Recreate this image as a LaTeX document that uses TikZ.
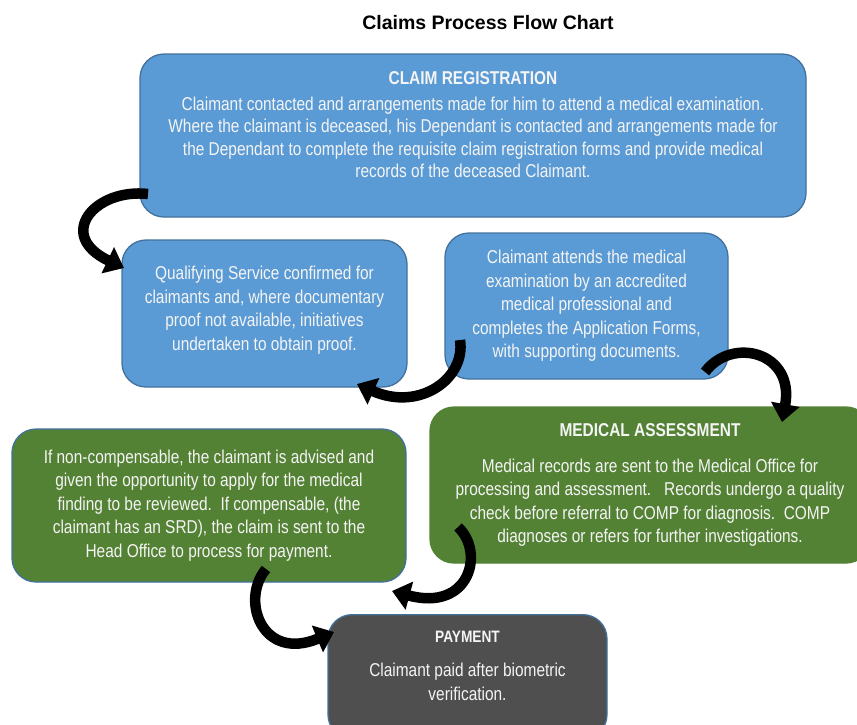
\documentclass[tikz,border=0pt]{standalone}
\usepackage{fontspec}
\setmainfont{Liberation Sans}[FakeStretch=0.83]
\newfontfamily\titlefont{Liberation Sans}
\usetikzlibrary{arrows.meta}
\definecolor{bluefill}{HTML}{5B9BD5}
\definecolor{blueline}{HTML}{41719C}
\definecolor{greenfill}{HTML}{548235}
\definecolor{grayfill}{HTML}{4F4F4F}
\definecolor{boxtext}{HTML}{F4F4F4}
\tikzset{
  box/.style={rounded corners=24pt, inner sep=0pt, align=center, text=boxtext,
    font=\fontsize{18.6}{23.5}\selectfont, line width=1.3pt},
  bluebox/.style={box, fill=bluefill, draw=blueline},
  greenbox/.style={box, fill=greenfill, draw=blueline},
  greenplain/.style={box, fill=greenfill, draw=greenfill},
  graybox/.style={box, fill=grayfill, draw=blueline},
  curvearrow/.style={line width=10.5pt, black, -{Triangle[length=18pt,width=28pt]}},
}
\begin{document}
\begin{tikzpicture}[x=1pt,y=-1pt]
\useasboundingbox (0,0) rectangle (857,724);
\clip (0,0) rectangle (857,724);
\node[font=\titlefont\bfseries\fontsize{19.5}{23}\selectfont] (title) at (488,23) {Claims Process Flow Chart};

\node[bluebox, minimum width=666pt, minimum height=163pt, font=\fontsize{18.6}{22.4}\selectfont] (reg) at (473,135.5)
  {\textbf{CLAIM REGISTRATION}\\[3.5pt]
   Claimant contacted and arrangements made for him to attend a medical examination.\\
   Where the claimant is deceased, his Dependant is contacted and arrangements made for\\
   the Dependant to complete the requisite claim registration forms and provide medical\\
   records of the deceased Claimant.\\[-0.5pt]\mbox{}};

\node[bluebox, minimum width=285pt, minimum height=147pt] (qual) at (264.5,313.5)
  {Qualifying Service confirmed for\\
   claimants and, where documentary\\
   proof not available, initiatives\\
   undertaken to obtain proof.\\[-13pt]\mbox{}};

\node[bluebox, minimum width=283pt, minimum height=146pt] (attend) at (586.5,306)
  {Claimant attends the medical\\
   examination by an accredited\\
   medical professional and\\
   completes the Application Forms,\\
   with supporting documents.};

\node[greenplain, minimum width=440pt, minimum height=156pt] (med) at (650,485)
  {\textbf{MEDICAL ASSESSMENT}\\[12.5pt]
   Medical records are sent to the Medical Office for\\
   processing and assessment.\ \ \ Records undergo a quality\\
   check before referral to COMP for diagnosis.\ \ COMP\\
   diagnoses or refers for further investigations.};

\node[greenbox, minimum width=394pt, minimum height=153pt] (noncomp) at (209,505.5)
  {If non-compensable, the claimant is advised and\\
   given the opportunity to apply for the medical\\
   finding to be reviewed.\ \ If compensable, (the\\
   claimant has an SRD), the claim is sent to the\\
   Head Office to process for payment.};

\node[graybox, minimum width=279pt, minimum height=124pt, anchor=north] (pay) at (467.5,614)
  {{\bfseries\fontsize{16.5}{20}\selectfont PAYMENT}\\[11pt]
   Claimant paid after biometric\\
   verification.\\[-1.5pt]\mbox{}};

% arrow end points
\coordinate (a1s) at (148,194);
\coordinate (a1e) at (124,268);
\coordinate (a2s) at (460,340);
\coordinate (a2e) at (357,384);
\coordinate (a3s) at (705,372);
\coordinate (a3e) at (782,422);
\coordinate (a4s) at (458,527);
\coordinate (a4e) at (392,591);
\coordinate (a5s) at (266,569);
\coordinate (a5e) at (334,632);

\draw[curvearrow] (a1s) .. controls (95,188) and (55,235) .. (a1e);
\draw[curvearrow] (a2s) .. controls (466,378) and (420,412) .. (a2e);
\draw[curvearrow] (a3s) .. controls (732,336) and (795,352) .. (a3e);
\draw[curvearrow] (a4s) .. controls (485,552) and (470,612) .. (a4e);
\draw[curvearrow] (a5s) .. controls (240,600) and (262,662) .. (a5e);
\end{tikzpicture}
\end{document}
